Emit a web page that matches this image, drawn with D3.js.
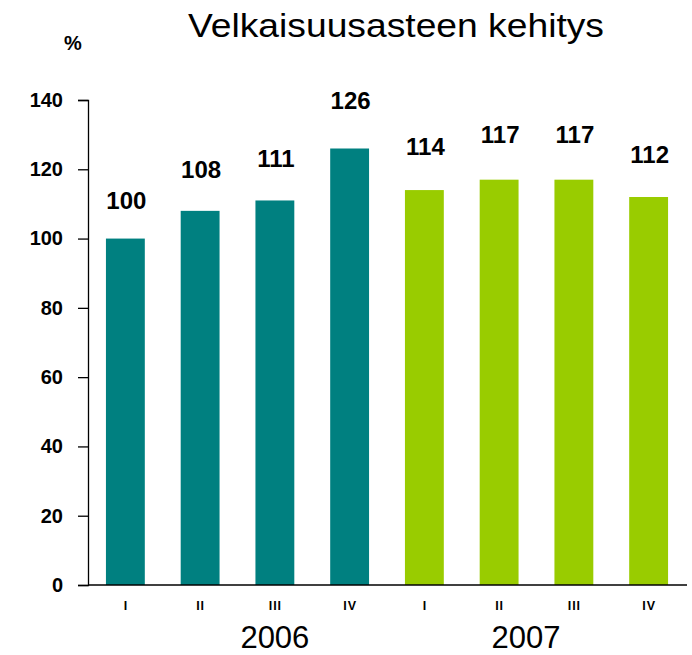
<!DOCTYPE html>
<html lang="fi">
<head>
    <meta charset="UTF-8">
    <style>
        body {
            margin: 0;
            background: #fff;
            font-family: "Liberation Sans", Arial, sans-serif;
        }
        .axis path, .axis line {
            stroke: #000;
            stroke-width: 1.3px;
        }
        .y-axis text {
            font-size: 20px;
            font-weight: bold;
            fill: #000;
        }
        .value-label {
            font-size: 24px;
            font-weight: bold;
        }
        .quarter-label {
            font-size: 12.5px;
            font-weight: bold;
            letter-spacing: 1px;
        }
        .year-label {
            font-size: 31px;
        }
    </style>
    <script src="https://cdn.jsdelivr.net/npm/d3@7"></script>
</head>
<body>
<svg width="692" height="655"></svg>

<script>
    // data
    var quarters = ["I", "II", "III", "IV", "I", "II", "III", "IV"];
    var years = ["2006", "2006", "2006", "2006", "2007", "2007", "2007", "2007"];
    var values = [100, 108, 111, 126, 114, 117, 117, 112];
    var yearLabels = ["2006", "2007"];
    var yTicks = [0, 20, 40, 60, 80, 100, 120, 140];

    var colors = {"2006": "#008080", "2007": "#99cc00"};

    var svg = d3.select("svg");
    var plotLeft = 88, plotRight = 686, plotTop = 100, plotBottom = 585;

    var keys = values.map(function(d, i) { return years[i] + "-" + quarters[i]; });

    var x = d3.scaleBand()
            .domain(keys)
            .range([plotLeft, plotRight])
            .paddingInner(0.48)
            .paddingOuter(0.24);

    var y = d3.scaleLinear()
            .domain([0, 140])
            .range([plotBottom, plotTop]);

    // title
    svg.append("text")
            .attr("x", 396)
            .attr("y", 37)
            .attr("text-anchor", "middle")
            .attr("textLength", 416)
            .attr("lengthAdjust", "spacingAndGlyphs")
            .style("font-size", "34px")
            .text("Velkaisuusasteen kehitys");

    svg.append("text")
            .attr("x", 73)
            .attr("y", 50)
            .attr("text-anchor", "middle")
            .style("font-size", "20px")
            .style("font-weight", "bold")
            .text("%");

    // bars
    svg.append("g").selectAll("rect")
            .data(values).enter()
            .append("rect")
            .attr("x", function(d, i) { return x(keys[i]); })
            .attr("y", function(d) { return y(d); })
            .attr("width", x.bandwidth())
            .attr("height", function(d) { return plotBottom - y(d); })
            .attr("fill", function(d, i) { return colors[years[i]]; });

    // value labels
    svg.append("g").selectAll("text")
            .data(values).enter()
            .append("text")
            .attr("class", "value-label")
            .attr("x", function(d, i) { return x(keys[i]) + x.bandwidth() / 2 + 1; })
            .attr("y", function(d) { return y(d * 1.11); })
            .attr("dy", "0.35em")
            .attr("text-anchor", "middle")
            .text(function(d) { return d; });

    // y axis
    svg.append("g")
            .attr("class", "axis y-axis")
            .attr("transform", "translate(" + plotLeft + ",0)")
            .call(d3.axisLeft(y).tickValues(yTicks).tickSize(10).tickPadding(15).tickSizeOuter(10));

    // x axis line
    svg.append("line")
            .attr("x1", plotLeft).attr("x2", plotRight + 1)
            .attr("y1", plotBottom).attr("y2", plotBottom)
            .attr("stroke", "#000")
            .attr("stroke-width", 1.3);

    // quarter labels
    svg.append("g").selectAll("text")
            .data(quarters).enter()
            .append("text")
            .attr("class", "quarter-label")
            .attr("x", function(d, i) { return x(keys[i]) + x.bandwidth() / 2 + 0.5; })
            .attr("y", 610)
            .attr("text-anchor", "middle")
            .text(function(d) { return d; });

    // year labels
    var yearPos = [x("2006-III") + x.bandwidth() / 2, x("2007-II") + x.bandwidth() / 2 + x.step() * 0.36];
    svg.append("g").selectAll("text")
            .data(yearLabels).enter()
            .append("text")
            .attr("class", "year-label")
            .attr("x", function(d, i) { return yearPos[i]; })
            .attr("y", 648)
            .attr("text-anchor", "middle")
            .text(function(d) { return d; });
</script>
</body>
</html>
